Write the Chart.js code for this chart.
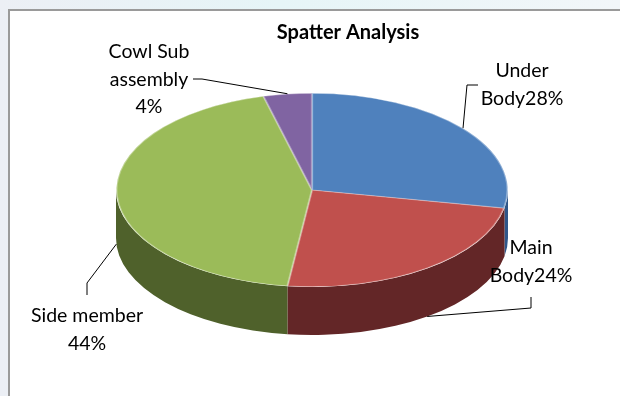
<!DOCTYPE html>
<html>
<head>
<meta charset="utf-8">
<script src="https://cdn.jsdelivr.net/npm/chart.js@4.4.1/dist/chart.umd.min.js"></script>
<style>
    html, body {
        margin: 0;
        padding: 0;
        width: 620px;
        height: 396px;
        overflow: hidden;
        background: linear-gradient(to right, #eceff5, #e6f5f7 45%, #f2f6f9);
    }
    #frame {
        position: absolute;
        left: 8px;
        top: 9px;
        width: 620px;
        height: 400px;
        background: #ffffff;
        border-left: 2px solid #9a9a9a;
        border-top: 2px solid #9a9a9a;
    }
    #spatterChart {
        position: absolute;
        left: 0;
        top: 0;
    }
</style>
</head>
<body>
<div id="frame"></div>
<canvas id="spatterChart" width="620" height="396"></canvas>
<script>
// Data
const categories = ["Under Body", "Main Body", "Side member", "Cowl Sub assembly"];
const shares = [28, 24, 44, 4];
// how Excel wrapped each label (the percentage is appended to the last line)
const labelBreaks = ["Under\nBody", "Main\nBody", "Side member\n", "Cowl Sub\nassembly\n"];

// Styles
const topColors = ["#4f81bd", "#c0504d", "#9bbb59", "#8064a2"];
const sideColors = ["#2f5689", "#632627", "#4f612b", "#4d3a66"];

// the flattened ellipse the pie is projected onto
const CX = 312, CY = 190, RX = 196, RY = 97, DEPTH = 48;

// label text anchors and leader line bends
const labelSpots = [
    { x: 522, y: 77, bend: [467, 85], end: [478, 85] },
    { x: 531, y: 254, bend: [531, 308], end: [531, 297] },
    { x: 87, y: 322, bend: [87, 283], end: [87, 295] },
    { x: 149, y: 58, bend: [202, 79], end: [193, 79] }
];
const LABEL_FONT = "19.5px Lato";
const LINE_GAP = 27.5;

function toEllipse(ctx, arc) {
    ctx.translate(CX, CY);
    ctx.scale(RX / arc.outerRadius, RY / arc.outerRadius);
    ctx.translate(-arc.x, -arc.y);
}

// draws the front wall under the pie, then flattens the top
const pie3d = {
    id: "pie3d",
    beforeDatasetsDraw(chart) {
        const ctx = chart.ctx;
        const arcs = chart.getDatasetMeta(0).data;
        arcs.forEach((a, i) => {
            // only the part facing the viewer (0..PI) is visible
            const s = Math.max(a.startAngle, 0);
            const e = Math.min(a.endAngle, Math.PI);
            if (e <= s) return;
            ctx.beginPath();
            ctx.ellipse(CX, CY, RX, RY, 0, s, e, false);
            ctx.ellipse(CX, CY + DEPTH, RX, RY, 0, e, s, true);
            ctx.closePath();
            ctx.fillStyle = sideColors[i];
            ctx.fill();
        });
        ctx.save();
        toEllipse(ctx, arcs[0]);
    },
    afterDatasetsDraw(chart) {
        chart.ctx.restore();
    },
    afterDraw(chart) {
        const ctx = chart.ctx;
        const arcs = chart.getDatasetMeta(0).data;
        const total = shares.reduce((s, v) => s + v, 0);
        ctx.save();
        ctx.strokeStyle = "#000000";
        ctx.lineWidth = 1;
        ctx.fillStyle = "#000000";
        ctx.font = LABEL_FONT;
        ctx.textAlign = "center";
        ctx.textBaseline = "alphabetic";
        arcs.forEach((a, i) => {
            const spot = labelSpots[i];
            const mid = (a.startAngle + a.endAngle) / 2;
            const px = CX + RX * Math.cos(mid);
            const py = CY + RY * Math.sin(mid) + (Math.sin(mid) > 0 ? DEPTH : 0);
            ctx.beginPath();
            ctx.moveTo(px, py);
            ctx.lineTo(spot.bend[0], spot.bend[1]);
            ctx.lineTo(spot.end[0], spot.end[1]);
            ctx.stroke();

            const pct = Math.round(shares[i] / total * 100);
            const lines = (labelBreaks[i] + pct + "%").split("\n");
            lines.forEach((line, k) => {
                ctx.fillText(line, spot.x, spot.y + k * LINE_GAP);
            });
        });
        ctx.restore();
    }
};

const ctx = document.getElementById("spatterChart").getContext("2d");
new Chart(ctx, {
    type: "pie",
    data: {
        labels: categories,
        datasets: [{
            data: shares,
            backgroundColor: topColors,
            borderColor: "rgba(255, 255, 255, 0.35)",
            borderWidth: 1,
            borderAlign: "inner",
            clip: false
        }]
    },
    options: {
        responsive: false,
        animation: false,
        events: [],
        layout: {
            padding: { left: 96, right: 20, top: 21, bottom: 0 }
        },
        plugins: {
            legend: { display: false },
            tooltip: { enabled: false },
            title: {
                display: true,
                text: "Spatter Analysis",
                color: "#000000",
                font: { family: "Lato", size: 20, weight: "bold" },
                padding: { top: 0, bottom: 10 }
            }
        }
    },
    plugins: [pie3d]
});
</script>
</body>
</html>
